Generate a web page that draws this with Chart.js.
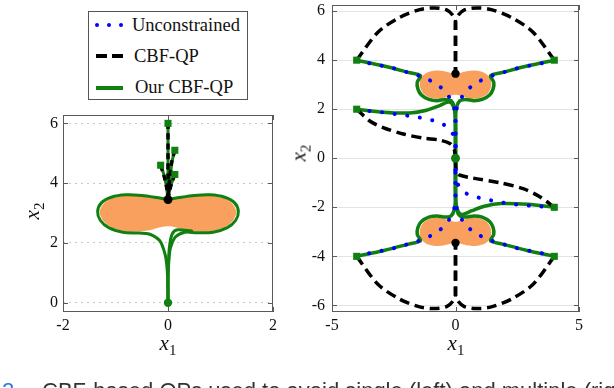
<!DOCTYPE html>
<html>
<head>
<meta charset="utf-8">
<script src="https://cdn.jsdelivr.net/npm/chart.js@4.4.1/dist/chart.umd.min.js"></script>
<style>
  html, body { margin: 0; padding: 0; background: #fff; }
  #wrap { position: relative; width: 614px; height: 388px; overflow: hidden; background: #fff; }
  canvas { position: absolute; }
  .axtitle { position: absolute; font-family: "Liberation Serif", "Times New Roman", serif; font-size: 21px;
             font-style: italic; color: #111; white-space: nowrap; line-height: 1; transform: translate(-50%, -50%); }
  .axtitle sub { font-style: normal; font-size: 15px; vertical-align: -5px; }
  .axtitle.rot { transform: translate(-50%, -50%) rotate(-90deg); }
  #legend { position: absolute; left: 88px; top: 11px; width: 160px; height: 89px; box-sizing: border-box;
            border: 1px solid #555; background: #fff; font-family: "Liberation Serif", "Times New Roman", serif;
            font-size: 18.5px; color: #111; }
  #legend .txt { position: absolute; line-height: 1; white-space: nowrap; transform: translateY(-50%); }
  #legend .smp { position: absolute; }
  .dot { width: 4px; height: 4px; border-radius: 50%; background: #0000ff; }
  .dash { width: 11px; height: 4px; background: #000; }
  .solid { width: 27px; height: 4px; background: rgb(16,128,16); }
  #caption { position: absolute; left: 0; top: 380px; width: 800px; white-space: nowrap;
             font-family: "Liberation Sans", Arial, sans-serif; font-size: 22px; line-height: 22px; color: #333; }
  #caption .num { position: absolute; left: 2px; color: #2a7ae2; }
  #caption .cap { position: absolute; left: 42px; }
</style>
</head>
<body>
<div id="wrap">
  <canvas id="leftChart" width="300" height="250" style="left:0;top:105px"></canvas>
  <canvas id="rightChart" width="314" height="355" style="left:300px;top:0"></canvas>

  <div id="legend">
    <div class="smp dot" style="left:6px;top:11px"></div>
    <div class="smp dot" style="left:18px;top:11px"></div>
    <div class="smp dot" style="left:30px;top:11px"></div>
    <div class="txt" style="left:43px;top:13px">Unconstrained</div>
    <div class="smp dash" style="left:7px;top:42px"></div>
    <div class="smp dash" style="left:23px;top:42px"></div>
    <div class="txt" style="left:45px;top:44px">CBF-QP</div>
    <div class="smp solid" style="left:7px;top:74px"></div>
    <div class="txt" style="left:46px;top:75px">Our CBF-QP</div>
  </div>

  <div class="axtitle" style="left:168px;top:345px">x<sub>1</sub></div>
  <div class="axtitle" style="left:456px;top:345px">x<sub>1</sub></div>
  <div class="axtitle rot" style="left:34px;top:211px">x<sub>2</sub></div>
  <div class="axtitle rot" style="left:301px;top:153px">x<sub>2</sub></div>

  <div id="caption"><span class="num">2</span><span class="cap">CBF-based QPs used to avoid single (left) and multiple (right) obstacles.</span></div>
</div>

<script>
// ---- left panel (single obstacle) ----
var leftXTicks = [-2, 0, 2];
var leftYTicks = [0, 2, 4, 6];
var leftStarts = [[0, 6], [0.13, 5.1], [-0.14, 4.6], [0.13, 4.29]];
var leftGoal = [[0, 0]];
var leftStuck = [[0, 3.45]];
var leftObstacle = [[0, 3.43], [0.25, 3.5], [0.5, 3.56], [0.8, 3.58], [1.05, 3.5], [1.22, 3.33], [1.3, 3.05],
  [1.25, 2.78], [1.1, 2.55], [0.85, 2.4], [0.55, 2.38], [0.3, 2.45], [0.1, 2.54], [0, 2.56], [-0.1, 2.54],
  [-0.3, 2.45], [-0.55, 2.38], [-0.85, 2.4], [-1.1, 2.55], [-1.25, 2.78], [-1.3, 3.05], [-1.22, 3.33],
  [-1.05, 3.5], [-0.8, 3.58], [-0.5, 3.56], [-0.25, 3.5], [0, 3.43]];
var leftCbfPaths = [
  [[0, 6], [0, 5], [0, 4.2], [0, 3.45]],
  [[0.13, 5.1], [0.07, 4.7], [0.03, 4.1], [0, 3.45]],
  [[-0.14, 4.6], [-0.07, 4.2], [-0.02, 3.8], [0, 3.45]],
  [[0.13, 4.29], [0.06, 3.95], [0.02, 3.65], [0, 3.45]]
];
var leftOurPaths = [
  [[0, 6], [0, 5], [0, 4.2], [0, 3.45]],
  [[0.13, 5.1], [0.08, 4.75], [0.04, 4.2], [0.01, 3.75], [0, 3.45]],
  [[-0.14, 4.6], [-0.08, 4.3], [-0.03, 3.9], [0, 3.45]],
  [[0.13, 4.29], [0.07, 4.0], [0.02, 3.7], [0, 3.45]],
  [[0, 3.45], [-0.25, 3.53], [-0.5, 3.59], [-0.8, 3.61], [-1.08, 3.53], [-1.27, 3.34], [-1.34, 3.05],
   [-1.29, 2.76], [-1.13, 2.51], [-0.86, 2.36], [-0.55, 2.33], [-0.36, 2.3], [-0.16, 2.08], [-0.06, 1.65],
   [-0.02, 1.2], [0, 0.5], [0, 0]],
  [[0, 3.45], [0.25, 3.53], [0.5, 3.59], [0.8, 3.61], [1.08, 3.53], [1.27, 3.34], [1.34, 3.05],
   [1.29, 2.76], [1.13, 2.51], [0.86, 2.36], [0.55, 2.34], [0.32, 2.36], [0.14, 2.2], [0.05, 1.85],
   [0.02, 1.5], [0, 0.8], [0, 0]],
  [[0.45, 2.4], [0.18, 2.44], [0.08, 2.3], [0.03, 1.9], [0.01, 1.4], [0, 0.6], [0, 0]]
];

// ---- right panel (two obstacles) ----
var rightXTicks = [-5, 0, 5];
var rightYTicks = [-6, -4, -2, 0, 2, 4, 6];
var rightStarts = [[-4, 4], [4, 4], [-4, 2], [4, -2], [-4, -4], [4, -4]];
var rightGoal = [[0, 0]];
var rightStuck = [[0, 3.45], [0, -3.45]];
var obstacleTop = [[0, 3.42], [0.25, 3.5], [0.5, 3.56], [0.8, 3.58], [1.1, 3.52], [1.33, 3.36], [1.45, 3.1],
  [1.42, 2.85], [1.3, 2.63], [1.05, 2.48], [0.75, 2.43], [0.45, 2.47], [0.2, 2.55], [0, 2.59], [-0.2, 2.55],
  [-0.45, 2.47], [-0.75, 2.43], [-1.05, 2.48], [-1.3, 2.63], [-1.42, 2.85], [-1.45, 3.1], [-1.33, 3.36],
  [-1.1, 3.52], [-0.8, 3.58], [-0.5, 3.56], [-0.25, 3.5], [0, 3.42]];
var obstacleBottom = [[0, -3.42], [0.25, -3.5], [0.5, -3.56], [0.8, -3.58], [1.1, -3.52], [1.33, -3.36], [1.45, -3.1],
  [1.42, -2.85], [1.3, -2.63], [1.05, -2.48], [0.75, -2.43], [0.45, -2.47], [0.2, -2.55], [0, -2.59], [-0.2, -2.55],
  [-0.45, -2.47], [-0.75, -2.43], [-1.05, -2.48], [-1.3, -2.63], [-1.42, -2.85], [-1.45, -3.1], [-1.33, -3.36],
  [-1.1, -3.52], [-0.8, -3.58], [-0.5, -3.56], [-0.25, -3.5], [0, -3.42]];
var unconstrainedPaths = [
  [[-4, 4], [-3.43, 3.86], [-2.92, 3.76], [-2.38, 3.64], [-1.87, 3.48], [-1.35, 3.32], [-0.88, 3.09], [-0.46, 2.77], [-0.15, 2.31], [-0.02, 1.9], [0, 1.4], [0, 0]],
  [[4, 4], [3.43, 3.86], [2.92, 3.76], [2.38, 3.64], [1.87, 3.48], [1.35, 3.32], [0.88, 3.09], [0.46, 2.77], [0.15, 2.31], [0.02, 1.9], [0, 1.4], [0, 0]],
  [[-4, 2], [-3.43, 1.92], [-2.89, 1.87], [-2.36, 1.79], [-1.82, 1.72], [-1.3, 1.63], [-0.78, 1.5], [-0.3, 1.25], [-0.03, 0.8], [0, 0]],
  [[4, -2], [3.37, -1.96], [2.86, -1.92], [2.33, -1.87], [1.79, -1.79], [1.27, -1.68], [0.74, -1.55], [0.27, -1.33], [0.02, -0.83], [0, 0]],
  [[-4, -4], [-3.43, -3.86], [-2.92, -3.76], [-2.38, -3.64], [-1.87, -3.48], [-1.35, -3.32], [-0.88, -3.09], [-0.46, -2.77], [-0.15, -2.31], [-0.02, -1.9], [0, -1.4], [0, 0]],
  [[4, -4], [3.43, -3.86], [2.92, -3.76], [2.38, -3.64], [1.87, -3.48], [1.35, -3.32], [0.88, -3.09], [0.46, -2.77], [0.15, -2.31], [0.02, -1.9], [0, -1.4], [0, 0]]
];
var cbfPaths = [
  [[-4, 4], [-3.13, 5.15], [-2.25, 5.75], [-1.45, 6.06], [-0.84, 6.13], [-0.36, 6.05], [-0.1, 5.82], [0, 5.55], [0, 4.5], [0, 3.45]],
  [[4, 4], [3.13, 5.15], [2.25, 5.75], [1.45, 6.06], [0.84, 6.13], [0.36, 6.05], [0.1, 5.82], [0, 5.55], [0, 4.5], [0, 3.45]],
  [[-4, 2], [-3.47, 1.52], [-2.93, 1.25], [-2.12, 0.99], [-1.31, 0.82], [-0.64, 0.74], [-0.23, 0.6], [-0.05, 0.35], [0, 0]],
  [[4, -2], [3.41, -1.57], [2.74, -1.24], [1.79, -1.0], [0.71, -0.81], [0.15, -0.68], [0.03, -0.5], [0, 0]],
  [[-4, -4], [-3.13, -5.15], [-2.25, -5.75], [-1.45, -6.06], [-0.84, -6.13], [-0.36, -6.05], [-0.1, -5.82], [0, -5.55], [0, -4.5], [0, -3.45]],
  [[4, -4], [3.13, -5.15], [2.25, -5.75], [1.45, -6.06], [0.84, -6.13], [0.36, -6.05], [0.1, -5.82], [0, -5.55], [0, -4.5], [0, -3.45]]
];
var ourPaths = [
  [[-4, 4], [-2.9, 3.76], [-1.9, 3.5], [-1.42, 3.37], [-1.55, 3.1], [-1.52, 2.82], [-1.38, 2.58], [-1.08, 2.4], [-0.75, 2.35], [-0.42, 2.4], [-0.18, 2.35], [-0.05, 2.1], [0, 1.6], [0, 0]],
  [[4, 4], [2.9, 3.76], [1.9, 3.5], [1.42, 3.37], [1.55, 3.1], [1.52, 2.82], [1.38, 2.58], [1.08, 2.4], [0.75, 2.35], [0.42, 2.4], [0.18, 2.35], [0.05, 2.1], [0, 1.6], [0, 0]],
  [[-4, 2], [-2.93, 1.88], [-1.85, 1.85], [-1.17, 1.96], [-0.64, 2.15], [-0.3, 2.29], [-0.14, 2.22], [-0.03, 1.9], [0, 1.4], [0, 0]],
  [[4, -2], [2.93, -1.88], [1.85, -1.85], [1.17, -1.96], [0.64, -2.15], [0.3, -2.29], [0.14, -2.22], [0.03, -1.9], [0, -1.4], [0, 0]],
  [[-4, -4], [-2.9, -3.76], [-1.9, -3.5], [-1.42, -3.37], [-1.55, -3.1], [-1.52, -2.82], [-1.38, -2.58], [-1.08, -2.4], [-0.75, -2.35], [-0.42, -2.4], [-0.18, -2.35], [-0.05, -2.1], [0, -1.6], [0, 0]],
  [[4, -4], [2.9, -3.76], [1.9, -3.5], [1.42, -3.37], [1.55, -3.1], [1.52, -2.82], [1.38, -2.58], [1.08, -2.4], [0.75, -2.35], [0.42, -2.4], [0.18, -2.35], [0.05, -2.1], [0, -1.6], [0, 0]]
];

var GREEN = 'rgb(16,128,16)';
var ORANGE = 'rgb(250,160,95)';
var BLUE = '#0000ff';
var tickFont = { family: "'Liberation Serif', 'Times New Roman', serif", size: 16 };

function pts(arr) {
  return arr.map(function(p) { return { x: p[0], y: p[1] }; });
}

function pathSets(paths, color, width, dash, cap) {
  return paths.map(function(p) {
    return {
      data: pts(p), showLine: true, fill: false,
      borderColor: color, borderWidth: width, borderDash: dash, borderCapStyle: cap,
      borderJoinStyle: 'round', pointRadius: 0, tension: 0.3
    };
  });
}

function markers(points, style, radius, color) {
  return {
    data: pts(points), showLine: false, pointStyle: style, pointRadius: radius,
    backgroundColor: color, borderColor: color, borderWidth: 0
  };
}

function obstacle(points) {
  return {
    data: pts(points), showLine: true, fill: 'shape', backgroundColor: ORANGE,
    borderColor: 'rgba(0,0,0,0)', borderWidth: 0, pointRadius: 0, tension: 0.3
  };
}

// frame box with inward ticks, like the original figure
var frameTicks = {
  id: 'frameTicks',
  afterDraw: function(chart) {
    var ctx = chart.ctx, a = chart.chartArea;
    var xs = chart.scales.x, ys = chart.scales.y;
    ctx.save();
    ctx.strokeStyle = '#5a5a5a';
    ctx.lineWidth = 1;
    ctx.beginPath();
    xs.ticks.forEach(function(t) {
      var px = Math.round(xs.getPixelForValue(t.value)) + 0.5;
      ctx.moveTo(px, a.bottom); ctx.lineTo(px, a.bottom - 5);
      ctx.moveTo(px, a.top); ctx.lineTo(px, a.top + 5);
    });
    ys.ticks.forEach(function(t) {
      var py = Math.round(ys.getPixelForValue(t.value)) + 0.5;
      ctx.moveTo(a.left, py); ctx.lineTo(a.left + 5, py);
      ctx.moveTo(a.right, py); ctx.lineTo(a.right - 5, py);
    });
    ctx.stroke();
    ctx.strokeRect(a.left + 0.5, a.top + 0.5, a.right - a.left - 1, a.bottom - a.top - 1);
    ctx.restore();
  }
};

function makeScales(xr, yr, xTicks, yTicks, yWidth, yPad, gridColor, gridDash) {
  return {
    x: {
      type: 'linear', min: xr[0], max: xr[1],
      grid: { display: false, drawTicks: false },
      border: { display: false },
      afterBuildTicks: function(s) { s.ticks = xTicks.map(function(v) { return { value: v }; }); },
      afterFit: function(s) { s.height = 43; s.paddingLeft = 0; s.paddingRight = 0; },
      ticks: { font: tickFont, color: '#111', padding: 4, maxRotation: 0, autoSkip: false }
    },
    y: {
      type: 'linear', min: yr[0], max: yr[1],
      grid: { color: gridColor, lineWidth: 1, drawTicks: false },
      border: { display: false, dash: gridDash },
      afterBuildTicks: function(s) { s.ticks = yTicks.map(function(v) { return { value: v }; }); },
      afterFit: function(s) { s.width = yWidth; s.paddingTop = 0; s.paddingBottom = 0; },
      ticks: { font: tickFont, color: '#111', padding: yPad, autoSkip: false }
    }
  };
}

var commonOpts = {
  responsive: false, maintainAspectRatio: false, animation: false, events: [],
  plugins: { legend: { display: false }, tooltip: { enabled: false } }
};

document.addEventListener('DOMContentLoaded', function() {
  var leftDatasets = [].concat(
    [markers(leftStarts, 'rect', 5, GREEN), markers(leftGoal, 'circle', 4.2, GREEN), markers(leftStuck, 'circle', 4.5, '#000')],
    pathSets(leftCbfPaths, '#000', 3.5, [6, 4], 'butt'),
    pathSets(leftOurPaths, GREEN, 3, [], 'round'),
    [obstacle(leftObstacle)]
  );
  new Chart(document.getElementById('leftChart'), {
    type: 'scatter',
    data: { datasets: leftDatasets },
    options: Object.assign({}, commonOpts, {
      layout: { padding: { left: 0, right: 27, top: 10, bottom: 0 } },
      scales: makeScales([-2, 2], [-0.31, 6.28], leftXTicks, leftYTicks, 63, 5, '#c8c8c8', [2, 4])
    }),
    plugins: [frameTicks]
  });

  var rightDatasets = [].concat(
    [markers(rightStarts, 'rect', 5, GREEN), markers(rightGoal, 'circle', 4.5, GREEN), markers(rightStuck, 'circle', 4.2, '#000')],
    pathSets(unconstrainedPaths, BLUE, 4, [0.1, 12.6], 'round'),
    pathSets(cbfPaths, '#000', 3.5, [10, 5.5], 'butt'),
    pathSets(ourPaths, GREEN, 3.5, [], 'round'),
    [obstacle(obstacleTop), obstacle(obstacleBottom)]
  );
  new Chart(document.getElementById('rightChart'), {
    type: 'scatter',
    data: { datasets: rightDatasets },
    options: Object.assign({}, commonOpts, {
      layout: { padding: { left: 0, right: 35, top: 1, bottom: 0 } },
      scales: makeScales([-5, 5], [-6.27, 6.25], rightXTicks, rightYTicks, 32, 7, '#e3e3e3', [])
    }),
    plugins: [frameTicks]
  });
});
</script>
</body>
</html>
